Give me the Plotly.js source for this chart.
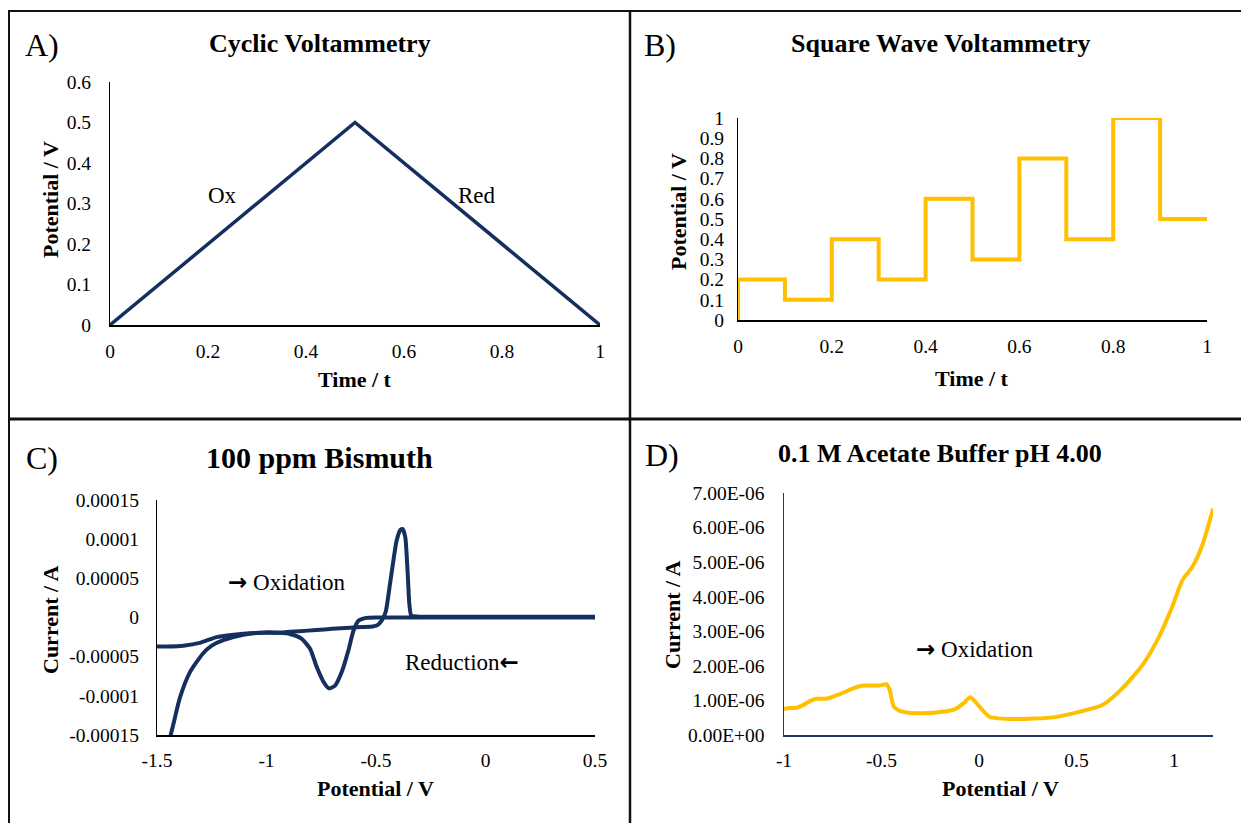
<!DOCTYPE html>
<html><head><meta charset="utf-8">
<script src="https://cdn.plot.ly/plotly-3.0.1.min.js"></script>
<style>html,body{margin:0;padding:0;background:#fff;}#chart{width:1241px;height:823px;}</style>
</head><body><div id="chart"></div>
<script>
// ---------------- DATA ----------------
// A) Cyclic Voltammetry waveform
const cvTime = [0, 0.5, 1];
const cvPotential = [0, 0.5, 0];

// B) Square Wave Voltammetry waveform
const swvTime = [0, 0, 0.1, 0.2, 0.3, 0.4, 0.5, 0.6, 0.7, 0.8, 0.9, 1.0];
const swvPotential = [0, 0.2, 0.1, 0.4, 0.2, 0.6, 0.3, 0.8, 0.4, 1.0, 0.5, 0.5];

// C) 100 ppm Bismuth CV
const biReductionV = [0.5, 0.2, 0, -0.2, -0.4, -0.5, -0.545, -0.565, -0.58, -0.603, -0.626, -0.657, -0.687, -0.715, -0.74, -0.771, -0.801, -0.84, -0.893, -0.95, -1.0, -1.106, -1.197, -1.25, -1.29, -1.35, -1.395, -1.425, -1.44, -1.455];
const biReductionI = [0, 0, 0, 0, 0, 0, -0.5e-6, -2e-6, -4e-6, -1.7e-5, -4.2e-5, -7.0e-5, -8.7e-5, -9.05e-5, -8.2e-5, -6.3e-5, -4.0e-5, -2.7e-5, -2.1e-5, -1.95e-5, -1.9e-5, -2.2e-5, -2.9e-5, -3.6e-5, -4.6e-5, -7.0e-5, -1.02e-4, -1.36e-4, -1.53e-4, -1.75e-4];
const biOxidationV = [-1.5, -1.45, -1.38, -1.30, -1.228, -1.15, -1.075, -1.0, -0.923, -0.85, -0.771, -0.7, -0.619, -0.56, -0.515, -0.49, -0.472, -0.455, -0.436, -0.406, -0.388, -0.378, -0.366, -0.356, -0.348, -0.34, -0.325, -0.3, -0.2, 0, 0.2, 0.5];
const biOxidationI = [-3.7e-5, -3.7e-5, -3.6e-5, -3.2e-5, -2.5e-5, -2.2e-5, -2.0e-5, -1.95e-5, -1.9e-5, -1.75e-5, -1.6e-5, -1.45e-5, -1.3e-5, -1.22e-5, -1.15e-5, -9e-6, -3e-6, 8e-6, 4.3e-5, 9.8e-5, 1.12e-4, 1.13e-4, 1.02e-4, 6.0e-5, 1.8e-5, 3e-6, 1.5e-6, 1e-6, 1e-6, 1e-6, 1e-6, 1e-6];

// D) 0.1 M Acetate Buffer pH 4.00
const acetateV = [-1.0, -0.97, -0.935, -0.90, -0.86, -0.833, -0.782, -0.714, -0.646, -0.594, -0.509, -0.475, -0.458, -0.437, -0.407, -0.321, -0.219, -0.125, -0.083, -0.045, -0.014, 0.054, 0.19, 0.378, 0.514, 0.633, 0.735, 0.838, 0.923, 0.991, 1.043, 1.094, 1.145, 1.179, 1.201];
const acetateI = [0.75e-6, 0.78e-6, 0.79e-6, 0.87e-6, 1.0e-6, 1.05e-6, 1.05e-6, 1.18e-6, 1.35e-6, 1.43e-6, 1.43e-6, 1.47e-6, 1.30e-6, 0.82e-6, 0.70e-6, 0.63e-6, 0.65e-6, 0.74e-6, 0.90e-6, 1.09e-6, 0.93e-6, 0.53e-6, 0.46e-6, 0.51e-6, 0.67e-6, 0.87e-6, 1.35e-6, 2.02e-6, 2.84e-6, 3.71e-6, 4.48e-6, 4.86e-6, 5.49e-6, 6.12e-6, 6.55e-6];

// Tick labels
const cTickVals = [-0.00015, -0.0001, -0.00005, 0, 0.00005, 0.0001, 0.00015];
const cTickText = ["-0.00015", "-0.0001", "-0.00005", "0", "0.00005", "0.0001", "0.00015"];
const cXTickVals = [-1.5, -1, -0.5, 0, 0.5];
const cXTickText = ["-1.5", "-1", "-0.5", "0", "0.5"];
const dTickVals = [0, 1e-6, 2e-6, 3e-6, 4e-6, 5e-6, 6e-6, 7e-6];
const dTickText = ["0.00E+00", "1.00E-06", "2.00E-06", "3.00E-06", "4.00E-06", "5.00E-06", "6.00E-06", "7.00E-06"];
const dXTickVals = [-1, -0.5, 0, 0.5, 1];
const dXTickText = ["-1", "-0.5", "0", "0.5", "1"];

// ---------------- LAYOUT ----------------
const W = 1241, H = 823;
const FONT = "Liberation Serif, Times New Roman, serif";
const NAVY = "#15305F";
const GOLD = "#FFC000";
const fx = p => p / W;
const fy = p => 1 - p / H;
const RARROW = '<span style="font-family:DejaVu Sans;font-weight:bold">\u2192</span>';
const LARROW = '<span style="font-family:DejaVu Sans;font-weight:bold">\u2190</span>';

function ann(text, px, py, size, extra) {
  return Object.assign({
    text: text, x: fx(px), y: fy(py), xref: "paper", yref: "paper",
    showarrow: false, xanchor: "center", yanchor: "middle",
    font: {family: FONT, size: size, color: "#000"}
  }, extra || {});
}

function axis(domPx, isY, extra) {
  const dom = isY ? [fy(domPx[1]), fy(domPx[0])] : [fx(domPx[0]), fx(domPx[1])];
  return Object.assign({
    domain: dom, showgrid: false, zeroline: false, showline: true,
    linecolor: "#000", linewidth: 1, ticks: "",
    tickfont: {family: FONT, size: 19.5, color: "#000"},
    fixedrange: true
  }, extra);
}

const traces = [
  {x: cvTime, y: cvPotential, xaxis: "x", yaxis: "y", mode: "lines",
   line: {color: NAVY, width: 3.5}, hoverinfo: "skip"},
  {x: swvTime, y: swvPotential, xaxis: "x2", yaxis: "y2", mode: "lines",
   line: {color: GOLD, width: 4, shape: "hv"}, hoverinfo: "skip"},
  {x: biReductionV, y: biReductionI, xaxis: "x3", yaxis: "y3", mode: "lines",
   line: {color: NAVY, width: 4, shape: "spline", smoothing: 0.6}, hoverinfo: "skip"},
  {x: biOxidationV, y: biOxidationI, xaxis: "x3", yaxis: "y3", mode: "lines",
   line: {color: NAVY, width: 4, shape: "spline", smoothing: 0.5}, hoverinfo: "skip"},
  {x: acetateV, y: acetateI, xaxis: "x4", yaxis: "y4", mode: "lines",
   line: {color: GOLD, width: 4, shape: "spline", smoothing: 0.6}, hoverinfo: "skip"}
];

const layout = {
  width: W, height: H,
  margin: {l: 0, r: 0, t: 0, b: 0},
  paper_bgcolor: "#fff", plot_bgcolor: "rgba(0,0,0,0)",
  showlegend: false,
  font: {family: FONT, color: "#000"},
  // A
  xaxis: axis([110, 600], false, {anchor: "y", range: [0, 1], dtick: 0.2, tick0: 0, linewidth: 2, ticklabelstandoff: 8}),
  yaxis: axis([82, 325], true, {anchor: "x", range: [0, 0.6], dtick: 0.1, tick0: 0, ticklabelstandoff: 14}),
  // B
  xaxis2: axis([738, 1207], false, {anchor: "y2", range: [0, 1], dtick: 0.2, tick0: 0, linewidth: 2, ticklabelstandoff: 8}),
  yaxis2: axis([118, 320], true, {anchor: "x2", range: [0, 1], dtick: 0.1, tick0: 0, ticklabelstandoff: 9}),
  // C
  xaxis3: axis([157, 595], false, {anchor: "y3", range: [-1.5, 0.5], tickvals: cXTickVals, ticktext: cXTickText, linewidth: 2, ticklabelstandoff: 7}),
  yaxis3: axis([500, 735], true, {anchor: "x3", range: [-0.00015, 0.00015], tickvals: cTickVals, ticktext: cTickText, ticklabelstandoff: 13}),
  // D
  xaxis4: axis([784, 1213], false, {anchor: "y4", range: [-1, 1.2], tickvals: dXTickVals, ticktext: dXTickText, linecolor: "#1F3864", linewidth: 2, ticklabelstandoff: 7}),
  yaxis4: axis([493, 735], true, {anchor: "x4", range: [0, 7e-6], tickvals: dTickVals, ticktext: dTickText, linecolor: "#1F3864", linewidth: 1.5, ticklabelstandoff: 14}),
  annotations: [
    // panel A
    ann("A)", 42, 45, 32),
    ann("<b>Cyclic Voltammetry</b>", 320, 43, 26),
    ann("<b>Time / t</b>", 355, 380, 22),
    ann("<b>Potential / V</b>", 50, 200, 22, {textangle: -90}),
    ann("Ox", 222, 195, 23),
    ann("Red", 477, 195, 23),
    // panel B
    ann("B)", 660, 45, 32),
    ann("<b>Square Wave Voltammetry</b>", 940, 43, 26),
    ann("<b>Time / t</b>", 972, 378, 22),
    ann("<b>Potential / V</b>", 678, 212, 22, {textangle: -90}),
    // panel C
    ann("C)", 42, 458, 32),
    ann("<b>100 ppm Bismuth</b>", 320, 457, 30),
    ann("<b>Potential / V</b>", 375, 788, 22),
    ann("<b>Current / A</b>", 50, 620, 22, {textangle: -90}),
    ann(RARROW + " Oxidation", 287, 582, 23),
    ann("Reduction" + LARROW, 462, 662, 23),
    // panel D
    ann("D)", 662, 455, 32),
    ann("<b>0.1 M Acetate Buffer pH 4.00</b>", 940, 453, 26),
    ann("<b>Potential / V</b>", 1000, 788, 22),
    ann("<b>Current / A</b>", 672, 615, 22, {textangle: -90}),
    ann(RARROW + " Oxidation", 975, 649, 23)
  ],
  shapes: [
    {type: "line", xref: "paper", yref: "paper", x0: fx(9), x1: fx(9), y0: fy(10), y1: 0, line: {color: "#111", width: 2}},
    {type: "line", xref: "paper", yref: "paper", x0: fx(8), x1: 1, y0: fy(11), y1: fy(11), line: {color: "#111", width: 2}},
    {type: "line", xref: "paper", yref: "paper", x0: fx(630), x1: fx(630), y0: fy(10), y1: 0, line: {color: "#111", width: 2.5}},
    {type: "line", xref: "paper", yref: "paper", x0: fx(8), x1: 1, y0: fy(419), y1: fy(419), line: {color: "#111", width: 3}}
  ]
};

Plotly.newPlot("chart", traces, layout, {displayModeBar: false, staticPlot: true});
</script>
</body></html>
